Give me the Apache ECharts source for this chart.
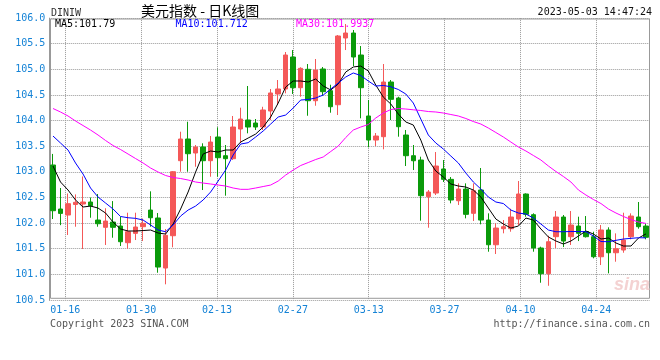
<!DOCTYPE html>
<html>
<head>
<meta charset="utf-8">
<script src="https://cdn.jsdelivr.net/npm/echarts@6/dist/echarts.min.js"></script>
<style>html,body{margin:0;padding:0;background:#fff;}#c{width:660px;height:360px;}</style>
</head>
<body>
<div id="c"></div>
<script>
const dates = [
'2023-01-12','2023-01-13','2023-01-16','2023-01-17','2023-01-18','2023-01-19','2023-01-20','2023-01-23','2023-01-24','2023-01-25',
'2023-01-26','2023-01-27','2023-01-30','2023-01-31','2023-02-01','2023-02-02','2023-02-03','2023-02-06','2023-02-07','2023-02-08',
'2023-02-09','2023-02-10','2023-02-13','2023-02-14','2023-02-15','2023-02-16','2023-02-17','2023-02-20','2023-02-21','2023-02-22',
'2023-02-23','2023-02-24','2023-02-27','2023-02-28','2023-03-01','2023-03-02','2023-03-03','2023-03-06','2023-03-07','2023-03-08',
'2023-03-09','2023-03-10','2023-03-13','2023-03-14','2023-03-15','2023-03-16','2023-03-17','2023-03-20','2023-03-21','2023-03-22',
'2023-03-23','2023-03-24','2023-03-27','2023-03-28','2023-03-29','2023-03-30','2023-03-31','2023-04-03','2023-04-04','2023-04-05',
'2023-04-06','2023-04-07','2023-04-10','2023-04-11','2023-04-12','2023-04-13','2023-04-14','2023-04-17','2023-04-18','2023-04-19',
'2023-04-20','2023-04-21','2023-04-24','2023-04-25','2023-04-26','2023-04-27','2023-04-28','2023-05-01','2023-05-02','2023-05-03'];

const tickLabels = ['01-16','01-30','02-13','02-27','03-13','03-27','04-10','04-24'];

const opens = [
103.134,102.275,102.158,102.363,102.373,102.412,102.06,101.918,102.021,101.943,
101.618,101.8,101.93,102.255,102.1,101.124,101.754,103.218,103.641,103.368,
103.485,103.218,103.68,103.315,103.257,103.836,104.012,103.953,103.875,104.187,
104.519,104.617,105.241,104.642,105.001,104.388,105.007,104.583,104.31,105.612,
105.709,105.28,104.09,103.621,103.686,104.753,104.441,103.719,103.315,103.231,
102.515,102.587,103.056,102.854,102.437,102.665,102.191,102.646,102.06,101.578,
101.891,101.891,102.08,102.568,102.164,101.514,101.013,101.735,102.119,101.735,
101.943,101.836,101.735,101.344,101.866,101.422,101.475,101.735,102.119,101.943];

const closes = [
102.242,102.19,102.379,102.406,102.412,102.34,101.988,102.04,101.918,101.637,
101.832,101.924,101.996,102.105,101.143,101.762,103.003,103.641,103.354,103.485,
103.218,103.582,103.276,103.257,103.875,104.031,103.875,103.875,104.207,104.539,
104.617,105.28,104.642,105.02,104.388,104.987,104.564,104.271,105.651,105.709,
105.241,104.642,103.621,103.699,104.753,104.415,103.881,103.315,103.217,102.535,
102.607,103.114,102.854,102.451,102.665,102.171,102.632,102.06,101.578,101.904,
101.93,102.119,102.568,102.171,101.514,101.013,101.637,102.119,101.65,101.963,
101.801,101.735,101.344,101.866,101.422,101.5,101.67,102.138,101.93,101.723];

const lows = [
102.08,101.96,101.768,101.93,101.495,102.105,101.93,101.573,101.715,101.553,
101.5,101.67,101.65,101.93,101.032,100.806,101.528,103.003,103.003,103.1,
102.646,102.905,102.905,102.535,103.231,103.563,103.752,103.817,103.817,104.012,
104.304,104.532,104.519,104.466,104.095,104.29,104.486,104.154,104.109,105.377,
105.065,104.045,103.479,103.504,103.44,104.012,103.686,103.114,103.036,102.047,
101.91,102.548,102.802,102.386,102.353,102.093,102.041,101.976,101.442,101.397,
101.801,101.832,101.963,102.125,101.442,100.837,100.778,101.514,101.533,101.573,
101.65,101.719,101.313,101.182,101.02,101.247,101.422,101.684,101.891,101.684];

const highs = [
103.35,102.685,102.578,102.56,102.91,102.5,102.568,102.29,102.43,102.125,
102.203,102.203,102.09,102.62,102.197,101.885,103.016,103.783,103.978,103.524,
103.557,103.7,103.869,103.524,104.09,104.252,104.675,104.031,104.27,104.617,
104.792,105.338,105.377,105.04,105.104,105.202,105.046,104.7,105.67,105.885,
105.768,105.455,104.402,103.758,105.104,104.792,104.466,103.817,103.524,103.296,
102.646,103.387,103.231,102.899,102.776,102.776,102.776,103.075,102.191,101.996,
102.06,102.281,102.822,102.58,102.191,101.54,101.754,102.236,102.158,102.236,
102.125,102.138,101.832,101.963,101.918,101.8,102.203,102.191,102.412,101.996];

const ma5 = [
103.114,102.802,102.646,102.451,102.314,102.333,102.294,102.197,102.021,101.885,
101.846,101.846,101.855,101.865,101.807,101.787,101.982,102.275,102.607,102.997,
103.348,103.407,103.387,103.426,103.426,103.582,103.66,103.738,103.875,104.07,
104.343,104.655,104.773,104.773,104.753,104.812,104.675,104.597,104.714,104.948,
105.046,105.065,104.968,104.694,104.46,104.324,104.129,103.973,103.914,103.621,
103.231,103.016,102.899,102.763,102.724,102.704,102.646,102.509,102.294,102.08,
101.982,101.904,101.943,102.099,102.06,101.885,101.729,101.651,101.592,101.651,
101.748,101.846,101.787,101.69,101.709,101.612,101.553,101.553,101.709,101.79];

const ma10 = [
103.699,103.563,103.426,103.173,102.958,102.685,102.509,102.392,102.275,102.129,
102.105,102.093,102.06,101.963,101.865,101.832,101.963,102.138,102.255,102.333,
102.451,102.607,102.821,103.036,103.329,103.543,103.569,103.68,103.797,103.933,
104.07,104.109,104.246,104.402,104.412,104.441,104.499,104.616,104.733,104.851,
104.929,104.88,104.773,104.675,104.685,104.661,104.607,104.519,104.343,104.031,
103.719,103.563,103.446,103.309,103.173,102.977,102.802,102.665,102.509,102.412,
102.382,102.255,102.197,102.177,102.099,101.982,101.865,101.832,101.832,101.836,
101.836,101.832,101.748,101.641,101.637,101.664,101.69,101.703,101.715,101.712];

const ma30 = [
104.236,104.168,104.09,103.992,103.904,103.816,103.719,103.612,103.514,103.436,
103.348,103.26,103.173,103.075,102.997,102.929,102.89,102.87,102.841,102.802,
102.782,102.763,102.743,102.724,102.685,102.659,102.659,102.685,102.714,102.743,
102.821,102.938,103.036,103.124,103.182,103.241,103.29,103.397,103.504,103.67,
103.816,103.875,103.924,104.051,104.148,104.216,104.236,104.226,104.211,104.197,
104.177,104.168,104.148,104.119,104.09,104.041,103.982,103.933,103.855,103.768,
103.68,103.582,103.485,103.407,103.319,103.231,103.114,103.007,102.909,102.802,
102.646,102.548,102.46,102.382,102.275,102.197,102.129,102.07,102.021,101.9937];

const RED = '#f45858', GREEN = '#0a9a0a', BLUE_TXT = '#1583d6';
const MONO = "'DejaVu Sans Mono','Liberation Mono',monospace";
const GRIDC = '#999999';

const kData = opens.map((o, i) => [o, closes[i], lows[i], highs[i]]);
const last = a => a[a.length - 1];

const chart = echarts.init(document.getElementById('c'), null, {renderer: 'canvas'});
chart.setOption({
  animation: false,
  backgroundColor: '#fff',
  grid: [
    {left: 49.25, top: 18.1, width: 600.5, height: 281.9, show: false},
    {left: 65.3, top: 18.1, width: 531, height: 281.9, show: false},
    {left: 50.5, top: 19, width: 599, height: 279.3, show: true, borderColor: '#999', borderWidth: 1, backgroundColor: 'transparent'}
  ],
  xAxis: [
    {type: 'category', gridIndex: 0, data: dates, boundaryGap: true,
     axisLine: {show: false}, axisTick: {show: false}, axisLabel: {show: false}, splitLine: {show: false}},
    {type: 'category', gridIndex: 1, data: tickLabels, boundaryGap: false,
     axisLine: {show: false}, axisTick: {show: false},
     axisLabel: {show: true, interval: 0, color: BLUE_TXT, fontFamily: MONO, fontSize: 10, margin: 5},
     splitLine: {show: true, interval: 0, lineStyle: {color: GRIDC, type: [1, 1], width: 1}}},
    {type: 'category', gridIndex: 2, data: tickLabels, show: false}
  ],
  yAxis: [
    {type: 'value', gridIndex: 0, min: 100.5, max: 106, interval: 0.5, scale: true,
     axisLine: {show: true, lineStyle: {color: '#999', width: 1}}, axisTick: {show: false},
     axisLabel: {color: BLUE_TXT, fontFamily: MONO, fontSize: 10, margin: 4, padding: [0, 0, 4, 0],
                 formatter: v => v.toFixed(1)},
     splitLine: {show: true, lineStyle: {color: GRIDC, type: [1, 1], width: 1}}},
    {type: 'value', gridIndex: 1, show: false, splitLine: {show: false}},
    {type: 'value', gridIndex: 2, show: false, splitLine: {show: false}}
  ],
  series: [
    {type: 'candlestick', name: 'K', xAxisIndex: 0, yAxisIndex: 0, data: kData, barWidth: 5,
     itemStyle: {color: RED, color0: GREEN, borderColor: RED, borderColor0: GREEN, borderWidth: 1}},
    {type: 'line', name: 'MA5', data: ma5, showSymbol: false, symbol: 'none',
     lineStyle: {color: '#000000', width: 1}, z: 5},
    {type: 'line', name: 'MA10', data: ma10, showSymbol: false, symbol: 'none',
     lineStyle: {color: '#0000ff', width: 1}, z: 5},
    {type: 'line', name: 'MA30', data: ma30, showSymbol: false, symbol: 'none',
     lineStyle: {color: '#ff00ff', width: 1}, z: 5}
  ],
  graphic: [
    {type: 'text', left: 51, top: 8, style: {text: 'DINIW', fill: '#333', font: '10px ' + MONO}},
    {type: 'text', left: 141, top: 4, style: {text: '美元指数 - 日K线图', fill: '#000', font: "14px 'Noto Sans CJK SC'"}},
    {type: 'text', right: 8, top: 7, style: {text: '2023-05-03 14:47:24', fill: '#111', font: '10px ' + MONO}},
    {type: 'text', left: 55, top: 19, z: 10, style: {text: 'MA5:' + last(ma5), fill: '#000', font: '10px ' + MONO}},
    {type: 'text', left: 175.5, top: 19, z: 10, style: {text: 'MA10:' + last(ma10), fill: '#0000ff', font: '10px ' + MONO}},
    {type: 'text', left: 296, top: 19, z: 10, style: {text: 'MA30:' + last(ma30), fill: '#ff00ff', font: '10px ' + MONO}},
    {type: 'text', left: 50, top: 319, style: {text: 'Copyright 2023 SINA.COM', fill: '#555', font: '10px ' + MONO}},
    {type: 'text', right: 10, top: 319, style: {text: 'http://finance.sina.com.cn', fill: '#555', font: '10px ' + MONO}},
    {type: 'text', left: 614, top: 276, z: 1, style: {text: 'sina', fill: '#f4d2d2', font: "italic bold 18px 'Liberation Sans'"}}
  ]
});
</script>
</body>
</html>
